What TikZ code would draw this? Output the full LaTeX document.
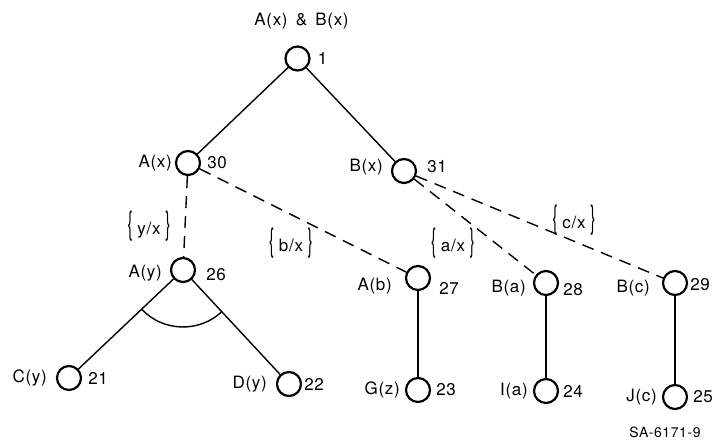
\documentclass[tikz,border=0pt]{standalone}
\usepackage{fontspec}
\setmainfont{TeX Gyre Heros}[LetterSpace=4]
\usepackage{tikz}
\usetikzlibrary{calc}
\usetikzlibrary{positioning}
\newcommand{\subst}[1]{\scalebox{0.9}[1.9]{\{}\;#1\;\scalebox{0.9}[1.9]{\}}}
\tikzset{
    goal/.style={
           circle,
           draw=black, line width=2.2pt,
           minimum size=24pt,
           inner sep=0pt,
           },
    tag/.style={
           font=\fontsize{17}{20}\selectfont,
           inner sep=1pt,
           },
    link/.style={line width=1.4pt},
    match/.style={line width=1.4pt, dash pattern=on 12pt off 8pt},
}
\begin{document}
\begin{tikzpicture}[x=1pt,y=1pt]
    \useasboundingbox (0,0) rectangle (717,442);
    % goal nodes
    \node[goal] (g_1)  at (297.5,383.5) {};
    \node[goal] (g_30) at (188,279)     {};
    \node[goal] (g_31) at (404,271)     {};
    \node[goal] (g_26) at (183,172)     {};
    \node[goal] (g_27) at (418,164)     {};
    \node[goal] (g_28) at (546,159)     {};
    \node[goal] (g_29) at (675,159)     {};
    \node[goal] (g_21) at (69,64)       {};
    \node[goal] (g_22) at (289,58)      {};
    \node[goal] (g_23) at (418,52)      {};
    \node[goal] (g_24) at (546,51)      {};
    \node[goal] (g_25) at (675,45)      {};
    % literals and numbers
    \node[tag] (l_1)  [above=15pt of g_1, xshift=4pt] {A(x) \,\& \,B(x)};
    \node[tag] (n_1)  [right=6pt of g_1]               {1};
    \node[tag] (l_30) [left=2pt of g_30]               {A(x)};
    \node[tag] (n_30) [right=5pt of g_30]              {30};
    \node[tag] (l_31) [left=7pt of g_31, yshift=4pt]   {B(x)};
    \node[tag] (n_31) [right=9pt of g_31, yshift=4pt]  {31};
    \node[tag] (l_26) [left=7pt of g_26, yshift=-3pt]  {A(y)};
    \node[tag] (n_26) [right=9pt of g_26, yshift=-5pt] {26};
    \node[tag] (l_27) [left=12pt of g_27, yshift=-8pt] {A(b)};
    \node[tag] (n_27) [right=7pt of g_27, yshift=-10pt]{27};
    \node[tag] (l_28) [left=6pt of g_28, yshift=-5pt]  {B(a)};
    \node[tag] (n_28) [right=3pt of g_28, yshift=-7pt] {28};
    \node[tag] (l_29) [left=11pt of g_29, yshift=-5pt] {B(c)};
    \node[tag] (n_29) [right=1pt of g_29, yshift=-2pt] {29};
    \node[tag] (l_21) [left=8pt of g_21]               {C(y)};
    \node[tag] (n_21) [right=5pt of g_21]              {21};
    \node[tag] (l_22) [left=8pt of g_22]               {D(y)};
    \node[tag] (n_22) [right=1pt of g_22]              {22};
    \node[tag] (l_23) [left=4pt of g_23]               {G(z)};
    \node[tag] (n_23) [right=4pt of g_23]              {23};
    \node[tag] (l_24) [left=4pt of g_24]               {I(a)};
    \node[tag] (n_24) [right=3pt of g_24]              {24};
    \node[tag] (l_25) [left=4pt of g_25]               {J(c)};
    \node[tag] (n_25) [right=4pt of g_25]              {25};
    % substitutions
    \node[tag] (s_yx) at (149,216) {\subst{y/x}};
    \node[tag] (s_bx) at (291,199) {\subst{b/x}};
    \node[tag] (s_ax) at (453,199) {\subst{a/x}};
    \node[tag] (s_cx) at (574,222) {\subst{c/x}};
    \node[tag,font=\fontsize{14}{16}\selectfont] (fig) at (665,10) {SA-6171-9};
    \path[link]
    (g_1) edge (g_30)
    (g_1) edge (g_31)
    (g_26) edge (g_21)
    (g_26) edge (g_22)
    (g_27) edge (g_23)
    (g_28) edge (g_24)
    (g_29) edge (g_25);
    \path[match]
    (g_30) edge (g_26)
    (g_30) edge (g_27)
    (g_31) edge (g_28)
    (g_31) edge (g_29);
    % and-arc
    \draw[link] ($(g_26.center)+(223.5:57pt)$) arc[start angle=223.5, end angle=313, radius=57pt];
\end{tikzpicture}
\end{document}
